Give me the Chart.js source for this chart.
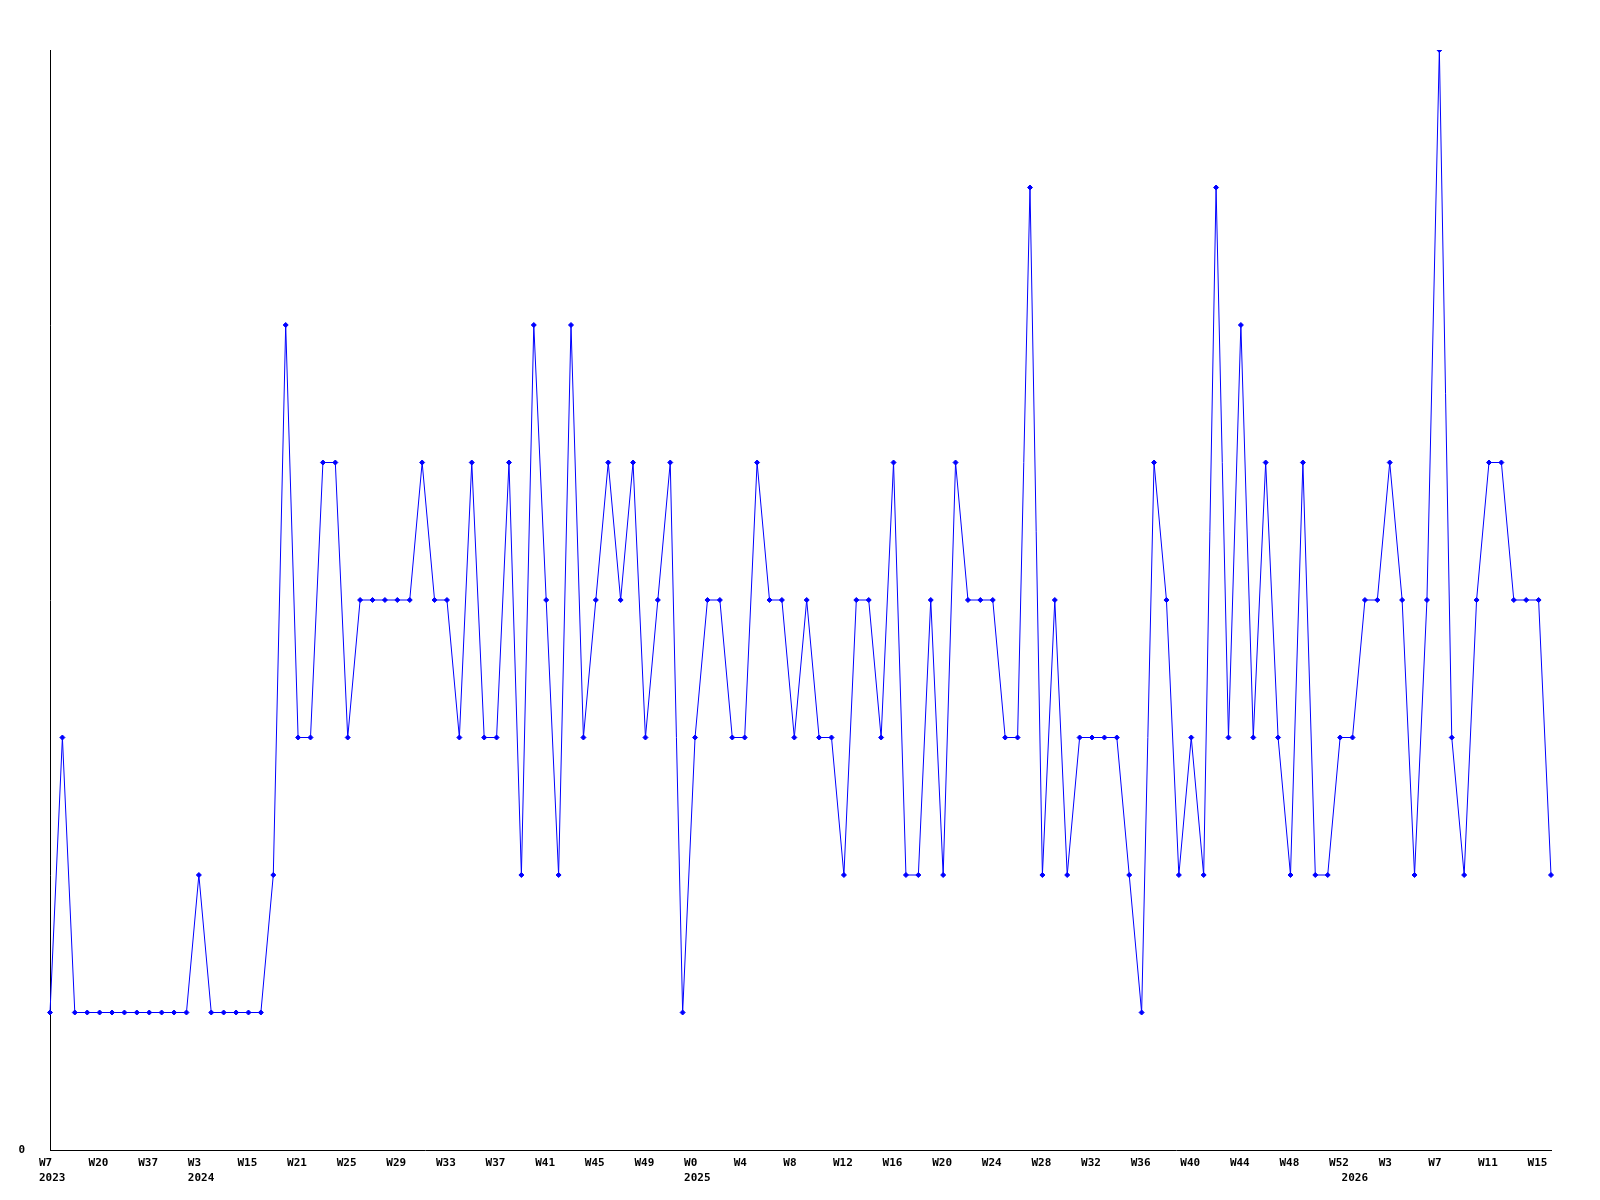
<!DOCTYPE html>
<html><head><meta charset="utf-8">
<script src="https://cdn.jsdelivr.net/npm/chart.js@4"></script>
<style>html,body{margin:0;padding:0;background:#fff}#wrap{width:1600px;height:1200px;position:relative}</style>
</head><body><div id="wrap"><canvas id="c"></canvas></div>
<script>
// Week numbers for each data point (x categories)
const weeks = [
  7, 8, 12, 16, 20, 24, 29, 33, 37, 42, 47, 51,
  3, 6, 9, 12, 15, 18, 19, 20,
  21, 22, 23, 24, 25, 26, 27, 28, 29, 30, 31, 32, 33, 34, 35, 36, 37, 38, 39, 40,
  41, 42, 43, 44, 45, 46, 47, 48, 49, 50, 51, 52,
  0, 1, 2, 3, 4, 5, 6, 7, 8, 9, 10, 11, 12, 13, 14, 15, 16, 17, 18, 19, 20,
  21, 22, 23, 24, 25, 26, 27, 28, 29, 30, 31, 32, 33, 34, 35, 36, 37, 38, 39, 40,
  41, 42, 43, 44, 45, 46, 47, 48, 49, 50, 51, 52,
  0, 1, 2, 3, 4, 5, 6, 7, 8, 9, 10, 11, 12, 13, 14, 15, 16
];
// Year captions and the point index where each year starts
const yearIndex = [0, 12, 52, 105];
const yearLabels = ['2023', '2024', '2025', '2026'];
// Series values
const values = [
  1, 3, 1, 1, 1, 1, 1, 1, 1, 1,
  1, 1, 2, 1, 1, 1, 1, 1, 2, 6,
  3, 3, 5, 5, 3, 4, 4, 4, 4, 4,
  5, 4, 4, 3, 5, 3, 3, 5, 2, 6,
  4, 2, 6, 3, 4, 5, 4, 5, 3, 4,
  5, 1, 3, 4, 4, 3, 3, 5, 4, 4,
  3, 4, 3, 3, 2, 4, 4, 3, 5, 2,
  2, 4, 2, 5, 4, 4, 4, 3, 3, 7,
  2, 4, 2, 3, 3, 3, 3, 2, 1, 5,
  4, 2, 3, 2, 7, 3, 6, 3, 5, 3,
  2, 5, 2, 2, 3, 3, 4, 4, 5, 4,
  2, 4, 8, 3, 2, 4, 5, 5, 4, 4, 4, 2
];
const labelEvery = 4;
const yMin = 0, yMax = 8;

const labels = weeks.map(w => 'W' + w);

const tickFont = {family: 'DejaVu Sans Mono', size: 11, weight: 'bold', lineHeight: 1.35};

new Chart(document.getElementById('c'), {
  type: 'line',
  data: {
    labels: labels,
    datasets: [{
      data: values,
      borderColor: '#0000ff',
      backgroundColor: '#0000ff',
      borderWidth: 1,
      tension: 0,
      pointStyle: 'rectRot',
      pointRadius: 2.5,
      pointBorderWidth: 1,
      pointBackgroundColor: '#0000ff',
      pointBorderColor: '#0000ff',
      fill: false
    }]
  },
  options: {
    responsive: true,
    maintainAspectRatio: false,
    animation: false,
    layout: {padding: {top: 50, right: 49, left: 0, bottom: 0}},
    plugins: {legend: {display: false}, tooltip: {enabled: false}, title: {display: false}},
    scales: {
      x: {
        type: 'category',
        offset: false,
        grid: {display: false, drawTicks: false},
        border: {display: true, color: '#000', width: 1},
        ticks: {
          autoSkip: false, maxRotation: 0, minRotation: 0,
          align: 'start', labelOffset: -11, padding: 6,
          color: '#000', font: tickFont,
          callback: function(v, i) {
            const week = (i % labelEvery === 0) ? labels[i] : '';
            const yi = yearIndex.indexOf(i);
            return yi >= 0 ? [week, yearLabels[yi]] : week;
          }
        },
        afterFit: s => { s.height = 50; }
      },
      y: {
        min: yMin, max: yMax,
        grid: {display: false, drawTicks: false},
        border: {display: true, color: '#000', width: 1},
        ticks: {padding: 25, color: '#000', font: tickFont},
        afterBuildTicks: s => { s.ticks = [{value: 0}]; },
        afterFit: s => { s.width = 50; }
      }
    }
  }
});
</script>
</body></html>
